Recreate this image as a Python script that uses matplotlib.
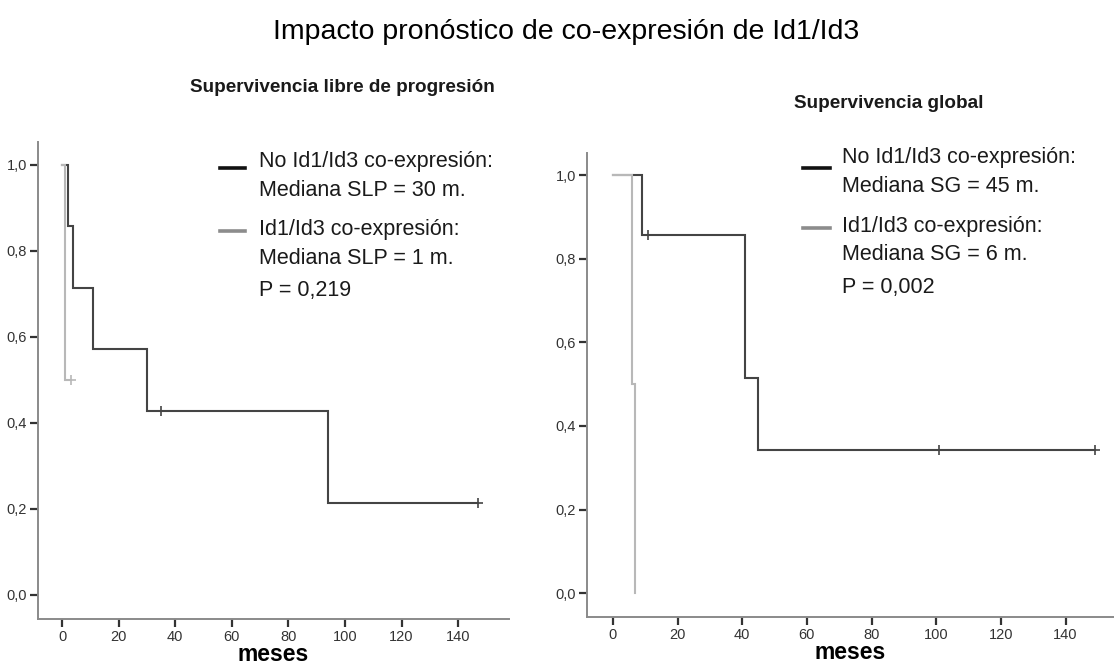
import matplotlib
matplotlib.use("Agg")
import matplotlib.pyplot as plt
from matplotlib.lines import Line2D
import numpy as np

# ---- data (months, event flag 1 = event, 0 = censored) ----
pfs_no_times = [2, 4, 11, 30, 35, 94, 147]
pfs_no_events = [1, 1, 1, 1, 0, 1, 0]
pfs_co_times = [1, 3]
pfs_co_events = [1, 0]

os_no_times = [9, 11, 41, 41, 45, 101, 149]
os_no_events = [1, 0, 1, 1, 1, 0, 0]
os_co_times = [6, 7]
os_co_events = [1, 1]

x_ticks = [0, 20, 40, 60, 80, 100, 120, 140]
y_ticks = [0.0, 0.2, 0.4, 0.6, 0.8, 1.0]
y_ticklabels = ["0,0", "0,2", "0,4", "0,6", "0,8", "1,0"]

title = "Impacto pronóstico de co-expresión de Id1/Id3"
sub_pfs = "Supervivencia libre de progresión"
sub_os = "Supervivencia global"
xlabel = "meses"
leg_pfs = ["No Id1/Id3 co-expresión:", "Mediana SLP = 30 m.",
           "Id1/Id3 co-expresión:", "Mediana SLP = 1 m.", "P = 0,219"]
leg_os = ["No Id1/Id3 co-expresión:", "Mediana SG = 45 m.",
          "Id1/Id3 co-expresión:", "Mediana SG = 6 m.", "P = 0,002"]

FONT = ["Liberation Sans", "DejaVu Sans"]
plt.rcParams["font.family"] = FONT

W, H = 1114, 666
fig = plt.figure(figsize=(W / 100, H / 100), dpi=100)


def km(times, events):
    t = np.array(times, float)
    e = np.array(events, int)
    order = np.argsort(t, kind="stable")
    t, e = t[order], e[order]
    xs, ys = [0.0], [1.0]
    cens_x, cens_y = [], []
    s = 1.0
    n = len(t)
    for ut in np.unique(t):
        d = int(((t == ut) & (e == 1)).sum())
        c = int(((t == ut) & (e == 0)).sum())
        if d:
            s = s * (1 - d / n)
        xs.append(ut)
        ys.append(s)
        if c:
            cens_x.append(ut)
            cens_y.append(s)
        n -= d + c
    return xs, ys, cens_x, cens_y


def frac(px, py):
    return px / W, 1 - py / H


def axes_px(x0, y0, x1, y1):
    return fig.add_axes([x0 / W, 1 - y1 / H, (x1 - x0) / W, (y1 - y0) / H])


def draw(ax, series, xlim, ylim):
    for (times, events, color, lw) in series:
        xs, ys, cx, cy = km(times, events)
        ax.step(xs, ys, where="post", color=color, lw=lw, solid_joinstyle="miter")
        if cx:
            ax.plot(cx, cy, ls="none", marker="+", ms=7, mew=1.2, color=color)
    ax.set_xlim(*xlim)
    ax.set_ylim(*ylim)
    ax.set_xticks(x_ticks)
    ax.set_yticks(y_ticks)
    ax.set_yticklabels(y_ticklabels)
    for sp in ["top", "right"]:
        ax.spines[sp].set_visible(False)
    for sp in ["left", "bottom"]:
        ax.spines[sp].set_color("#8a8a8a")
        ax.spines[sp].set_linewidth(1.4)
    ax.tick_params(direction="out", length=6, width=1.6, color="#333333",
                   labelsize=10.5, labelcolor="#333333", pad=2)
    ax.set_xlabel(xlabel, fontsize=16.5, fontweight="bold", labelpad=-1)


DARK = "#444444"
LIGHT = "#b8b8b8"

ax1 = axes_px(38, 142, 509, 619)
draw(ax1, [(pfs_no_times, pfs_no_events, DARK, 1.5),
           (pfs_co_times, pfs_co_events, LIGHT, 1.5)],
     (-8.5, 158), (-0.056, 1.053))

ax2 = axes_px(587, 153, 1114, 617)
draw(ax2, [(os_no_times, os_no_events, DARK, 1.5),
           (os_co_times, os_co_events, LIGHT, 1.5)],
     (-8, 155), (-0.057, 1.053))

# titles
fig.text(*frac(566, 39), title, ha="center", va="baseline", fontsize=20.5)
fig.text(*frac(342, 88), sub_pfs, ha="center", va="center", fontsize=13.6,
         fontweight="bold", color="#1a1a1a")
fig.text(*frac(889, 104), sub_os, ha="center", va="center", fontsize=13.6,
         fontweight="bold", color="#1a1a1a")


def legend(lines, x_line0, x_line1, x_text, ys, line_ys):
    for y, txt in zip(ys, lines):
        fig.text(*frac(x_text, y), txt, ha="left", va="center", fontsize=15.5,
                 color="#1a1a1a")
    for ly, col in zip(line_ys, ["#111111", "#8c8c8c"]):
        fig.add_artist(Line2D([x_line0 / W, x_line1 / W], [1 - ly / H, 1 - ly / H],
                              color=col, lw=2.6, transform=fig.transFigure))


legend(leg_pfs, 220, 245, 259, [161, 190, 230, 258, 290], [168, 231])
legend(leg_os, 803, 830, 842, [158, 187, 227, 255, 287], [168, 228])

fig.savefig("out.png", dpi=100)
